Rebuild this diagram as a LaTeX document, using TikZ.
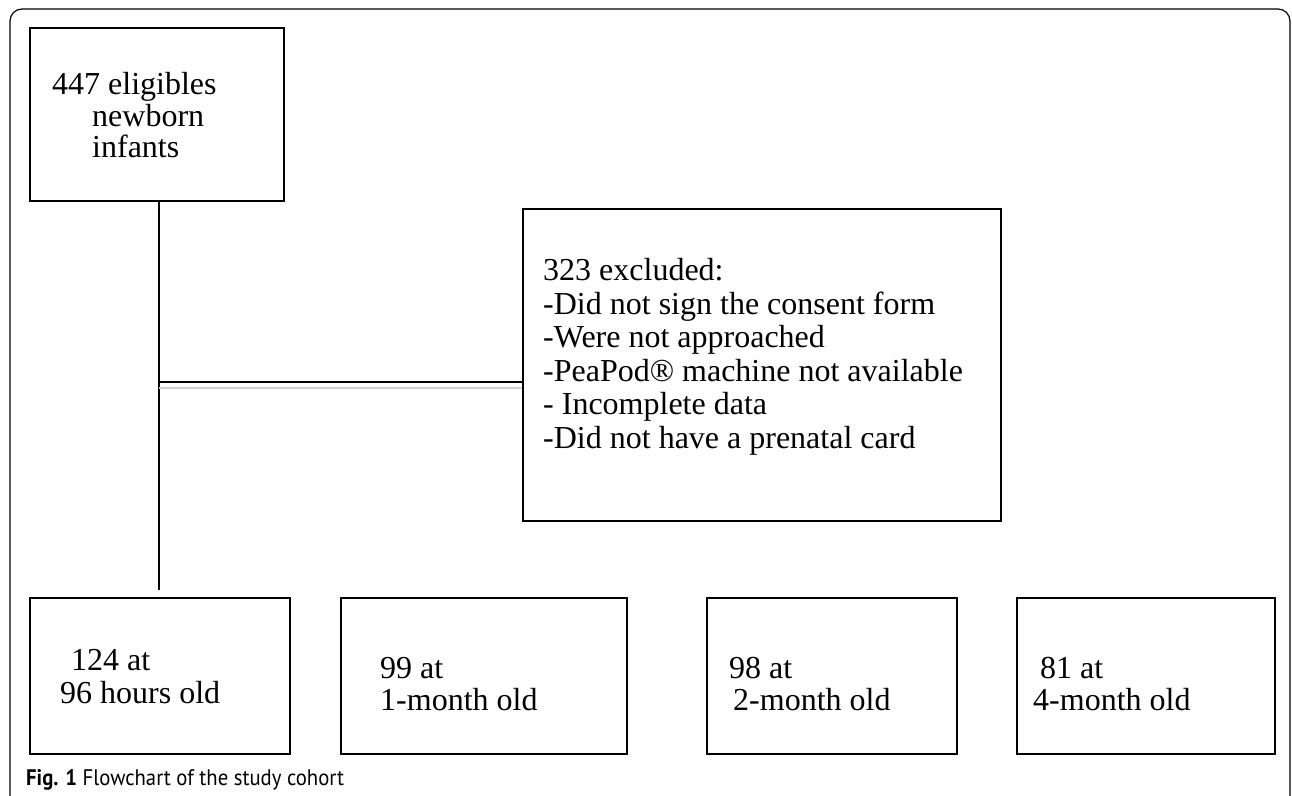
\documentclass[tikz,border=0pt]{standalone}
\usepackage{fontspec}
\setmainfont{Liberation Serif}
\newfontfamily\capfont{PT Sans}
\begin{document}
\begin{tikzpicture}[x=1pt,y=-1pt,
  box/.style={draw,line width=1.6pt,anchor=north west,inner sep=0pt},
  txt/.style={anchor=base west,inner sep=0pt,font=\fontsize{32}{33}\selectfont},
  conn/.style={line width=1.6pt}]
\useasboundingbox (0,0) rectangle (1292,795);
% outer frame
\draw[line width=1.2pt,rounded corners=12pt] (10,800) -- (10,9) -- (1290,9) -- (1290,800);
% boxes
\node[box,minimum width=254pt,minimum height=173pt] (b0) at (29,27) {};
\node[box,minimum width=478pt,minimum height=312pt] (ex) at (522,208) {};
\node[box,minimum width=260pt,minimum height=156pt] (b1) at (29,597) {};
\node[box,minimum width=286pt,minimum height=156pt] (b2) at (340,597) {};
\node[box,minimum width=250pt,minimum height=156pt] (b3) at (706,597) {};
\node[box,minimum width=258pt,minimum height=156pt] (b4) at (1016,597) {};
% texts
\node[txt] (t01) at (52,94) {447 eligibles};
\node[txt] (t02) at (92,126) {newborn};
\node[txt] (t03) at (92,157) {infants};
\node[txt] (e1) at (543,280) {323 excluded:};
\node[txt] (e2) at (543,314) {-Did not sign the consent form};
\node[txt] (e3) at (543,347) {-Were not approached};
\node[txt] (e4) at (543,381) {-PeaPod® machine not available};
\node[txt] (e5) at (543,414) {- Incomplete data};
\node[txt] (e6) at (543,448) {-Did not have a prenatal card};
\node[txt] (t11) at (71,670) {124 at};
\node[txt] (t12) at (60,703) {96 hours old};
\node[txt] (t21) at (380,678) {99 at};
\node[txt] (t22) at (380,710) {1-month old};
\node[txt] (t31) at (729,678) {98 at};
\node[txt] (t32) at (733,710) {2-month old};
\node[txt] (t41) at (1040,678) {81 at};
\node[txt] (t42) at (1033,710) {4-month old};
% connectors
\coordinate (j) at (159,382);
\coordinate (e) at (159,590);
\draw[conn] (b0.south -| j) -- (e);
\draw[conn] (j) -- (ex.west |- j);
\draw[line width=2pt,black!18] ([yshift=-5.5pt]j) -- ([yshift=-5.5pt]ex.west |- j);
% caption
\node[anchor=base west,inner sep=0pt,font=\capfont\fontsize{22.5}{24}\selectfont] (cap) at (26,785) {\scalebox{0.92}[1]{\textbf{Fig. 1} Flowchart of the study cohort}};
\end{tikzpicture}
\end{document}
